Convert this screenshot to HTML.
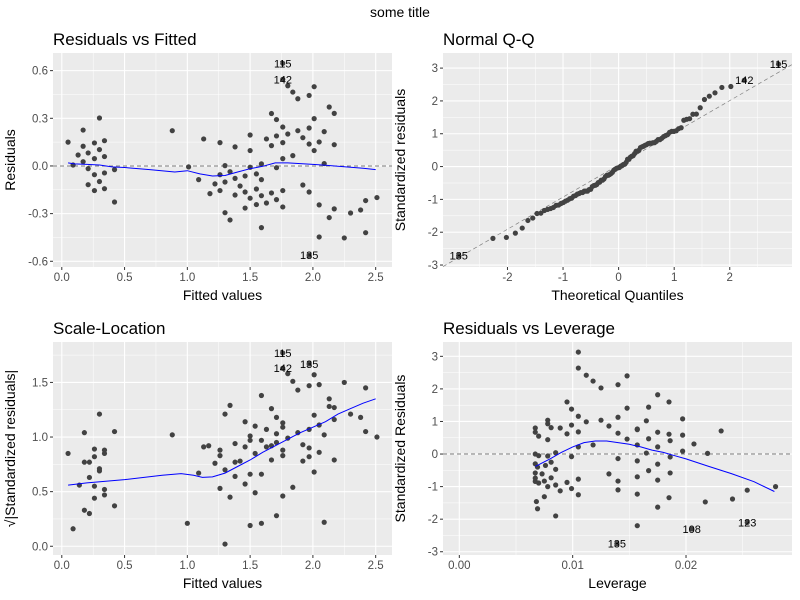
<!DOCTYPE html>
<html><head><meta charset="utf-8"><style>
body{margin:0;background:#fff;}
svg{font-family:"Liberation Sans",sans-serif;display:block}
</style></head><body>
<svg id="c" width="800" height="600">
<text x="400" y="17" text-anchor="middle" font-size="14" fill="#000">some title</text>
</svg>
<script>
// ---- data ----
const rvfFitted=[0.05,0.09,0.13,0.17,0.17,0.17,0.21,0.21,0.21,0.26,0.26,0.26,0.26,0.3,0.3,0.3,0.34,0.34,0.34,0.34,0.42,0.42,0.88,1.01,1.09,1.13,1.18,1.22,1.26,1.26,1.26,1.30,1.30,1.30,1.34,1.34,1.38,1.38,1.38,1.42,1.46,1.46,1.46,1.50,1.50,1.50,1.50,1.55,1.55,1.55,1.59,1.59,1.59,1.59,1.63,1.63,1.67,1.67,1.67,1.71,1.71,1.71,1.71,1.76,1.76,1.76,1.76,1.76,1.76,1.76,1.80,1.80,1.84,1.84,1.88,1.88,1.92,1.92,1.97,1.97,1.97,1.97,1.97,2.01,2.01,2.01,2.05,2.05,2.05,2.09,2.09,2.13,2.13,2.17,2.17,2.17,2.25,2.30,2.38,2.42,2.42,2.51];
const rvfResid=[0.15,0.006,0.069,0.226,0.124,0.027,0.082,-0.017,-0.118,0.145,0.046,-0.055,-0.155,0.302,0.103,-0.098,0.159,0.059,-0.044,-0.143,-0.023,-0.227,0.222,-0.006,-0.086,0.17,-0.174,-0.113,0.147,-0.055,-0.155,0.002,-0.294,-0.101,-0.036,-0.340,0.120,-0.078,-0.183,-0.126,-0.063,-0.164,-0.265,0.195,0.097,-0.008,-0.203,-0.050,-0.145,-0.243,0.013,-0.086,-0.187,-0.388,-0.233,0.170,0.330,0.128,-0.170,0.292,0.189,-0.011,-0.212,0.646,0.545,0.245,0.147,0.046,-0.155,-0.258,0.505,0.201,0.465,0.065,0.423,0.222,0.178,-0.120,0.444,0.239,0.138,-0.164,-0.562,0.499,0.298,0.097,0.151,-0.245,-0.447,0.216,0.015,0.371,-0.325,0.331,0.134,-0.270,-0.453,-0.296,-0.277,-0.218,-0.420,-0.199];
const rvfSmoothX=[0.05,0.1,0.2,0.3,0.4,0.5,0.7,0.9,1.0,1.1,1.2,1.3,1.4,1.5,1.6,1.7,1.8,1.9,2.0,2.1,2.2,2.3,2.4,2.5];
const rvfSmoothY=[0.019,0.013,0.01,0.006,-0.006,-0.01,-0.023,-0.038,-0.03,-0.05,-0.063,-0.06,-0.038,-0.017,-0.002,0.019,0.019,0.015,0.01,0.004,-0.002,-0.008,-0.015,-0.023];
const slFitted=[0.05,0.09,0.14,0.18,0.18,0.18,0.22,0.22,0.22,0.26,0.26,0.26,0.26,0.3,0.3,0.3,0.34,0.34,0.34,0.34,0.42,0.42,0.88,1.0,1.09,1.13,1.17,1.22,1.26,1.26,1.26,1.30,1.30,1.30,1.34,1.34,1.38,1.38,1.38,1.42,1.46,1.46,1.46,1.50,1.50,1.50,1.50,1.54,1.54,1.54,1.59,1.59,1.59,1.59,1.63,1.63,1.67,1.67,1.67,1.71,1.71,1.71,1.71,1.76,1.76,1.76,1.76,1.76,1.76,1.76,1.80,1.80,1.84,1.84,1.88,1.88,1.92,1.92,1.97,1.97,1.97,1.97,1.97,2.01,2.01,2.01,2.05,2.05,2.05,2.09,2.09,2.13,2.13,2.17,2.17,2.17,2.25,2.30,2.38,2.42,2.42,2.51];
const slValue=[0.85,0.16,0.56,1.04,0.77,0.33,0.77,0.63,0.3,0.89,0.82,0.55,0.44,1.21,0.71,0.69,0.88,0.85,0.52,0.47,1.05,0.37,1.02,0.21,0.67,0.91,0.92,0.76,0.88,0.83,0.53,1.21,0.7,0.02,1.29,0.45,0.94,0.77,0.64,0.78,1.14,0.91,0.57,1.01,0.97,0.66,0.19,1.1,0.85,0.49,1.38,0.97,0.66,0.21,1.07,0.91,1.26,0.92,0.79,1.18,1.03,0.95,0.28,1.77,1.63,1.13,1.09,0.88,0.83,0.46,1.58,0.99,1.51,0.54,1.43,1.04,0.93,0.78,1.67,1.47,1.07,0.9,0.82,1.57,1.2,0.68,1.48,1.11,0.86,1.02,0.22,1.35,1.28,1.27,1.16,0.79,1.5,1.21,1.18,1.45,1.05,1.0];
const slSmoothX=[0.05,0.2,0.5,0.8,0.95,1.05,1.12,1.2,1.3,1.4,1.5,1.6,1.7,1.8,1.9,2.0,2.1,2.2,2.3,2.4,2.5];
const slSmoothY=[0.56,0.58,0.61,0.65,0.665,0.65,0.63,0.635,0.67,0.73,0.79,0.86,0.92,0.98,1.04,1.09,1.14,1.21,1.26,1.31,1.35];
const levX=[0.0067,0.0067,0.0067,0.0067,0.0067,0.0067,0.0067,0.0068,0.0069,0.0069,0.007,0.007,0.007,0.0073,0.0075,0.0075,0.0076,0.0078,0.0078,0.0078,0.0078,0.0078,0.0081,0.0081,0.0081,0.0085,0.0085,0.0085,0.0085,0.0089,0.0089,0.0095,0.0095,0.0095,0.0099,0.0099,0.0099,0.0099,0.0105,0.0105,0.0105,0.0105,0.0105,0.0105,0.0105,0.0112,0.0112,0.0118,0.0118,0.0125,0.0125,0.0132,0.0132,0.014,0.014,0.014,0.014,0.014,0.014,0.0148,0.0148,0.0148,0.0157,0.0157,0.0157,0.0157,0.0157,0.0157,0.0157,0.0165,0.0165,0.0167,0.0167,0.0167,0.0175,0.0175,0.0175,0.0175,0.0175,0.0175,0.0185,0.0185,0.0185,0.0186,0.0186,0.0186,0.0197,0.0197,0.0197,0.0207,0.0219,0.0217,0.0231,0.0241,0.0254,0.0279,0.0139,0.0205,0.0254];
const levStd=[0.80,0.67,0.0,-0.3,-0.58,-0.74,-0.84,-1.46,-1.68,-0.40,0.55,-0.05,-0.89,-0.61,-1.31,-0.83,-0.35,0.44,0.93,1.04,-0.06,-1.0,0.81,-0.25,-0.73,-1.9,-0.95,-0.47,0.04,0.80,-1.13,1.60,0.62,-0.87,1.38,0.89,-0.08,-1.06,3.13,2.64,1.16,0.68,0.22,-0.77,-1.25,2.42,0.99,2.24,0.28,2.03,1.04,0.86,-0.61,2.13,1.13,0.64,-0.14,-0.83,-1.1,2.4,1.41,0.46,0.77,0.75,0.28,-0.21,-0.7,-1.23,-2.2,1.02,0.03,1.44,0.47,-0.51,1.82,0.67,0.22,-0.31,-0.8,-1.63,1.6,0.61,-1.34,0.41,-0.09,-0.58,1.08,0.58,0.09,0.31,0.02,-1.47,0.71,-1.38,-1.11,-1.0,-2.75,-2.3,-2.1];
const levSmoothX=[0.0067,0.008,0.009,0.010,0.011,0.012,0.013,0.014,0.015,0.016,0.017,0.018,0.019,0.020,0.022,0.024,0.026,0.0278];
const levSmoothY=[-0.38,-0.15,0.05,0.22,0.35,0.4,0.4,0.35,0.3,0.22,0.12,0.05,-0.05,-0.15,-0.38,-0.6,-0.85,-1.15];
const qqScale=[4.83];
const qqLine=[0.05,0.98]; // intercept, slope
const qqPEnds=[0.002,0.998];
const xTicks1=[0,0.5,1,1.5,2,2.5], xTickLab1=["0.0","0.5","1.0","1.5","2.0","2.5"];
const yTicks1=[-0.6,-0.3,0,0.3,0.6], yTickLab1=["-0.6","-0.3","0.0","0.3","0.6"];
const xTicks2=[-2,-1,0,1,2], xTickLab2=["-2","-1","0","1","2"];
const yTicks2=[-3,-2,-1,0,1,2,3], yTickLab2=["-3","-2","-1","0","1","2","3"];
const yTicks3=[0,0.5,1,1.5], yTickLab3=["0.0","0.5","1.0","1.5"];
const xTicks4=[0,0.01,0.02], xTickLab4=["0.00","0.01","0.02"];

const NS="http://www.w3.org/2000/svg", svg=document.getElementById('c');
function el(t,a,p){const e=document.createElementNS(NS,t);for(const k in a)e.setAttribute(k,a[k]);(p||svg).appendChild(e);return e;}
function qnorm(p){const a=[-39.6968302866538,220.946098424521,-275.928510446969,138.357751867269,-30.6647980661472,2.50662827745924],b=[-54.4760987982241,161.585836858041,-155.698979859887,66.8013118877197,-13.2806815528857],c=[-0.00778489400243029,-0.322396458041136,-2.40075827716184,-2.54973253934373,4.37466414146497,2.93816398269878],d=[0.00778469570904146,0.32246712907004,2.445134137143,3.75440866190742];let q,r;
if(p<0.02425){q=Math.sqrt(-2*Math.log(p));return(((((c[0]*q+c[1])*q+c[2])*q+c[3])*q+c[4])*q+c[5])/((((d[0]*q+d[1])*q+d[2])*q+d[3])*q+1);}
if(p>1-0.02425){q=Math.sqrt(-2*Math.log(1-p));return-(((((c[0]*q+c[1])*q+c[2])*q+c[3])*q+c[4])*q+c[5])/((((d[0]*q+d[1])*q+d[2])*q+d[3])*q+1);}
q=p-0.5;r=q*q;return(((((a[0]*r+a[1])*r+a[2])*r+a[3])*r+a[4])*r+a[5])*q/(((((b[0]*r+b[1])*r+b[2])*r+b[3])*r+b[4])*r+1);}

function panel(o){
  const g=el('g',{});
  
  
  const sx=v=>o.x0+(v-o.xd[0])/(o.xd[1]-o.xd[0])*(o.x1-o.x0);
  const sy=v=>o.y1-(v-o.yd[0])/(o.yd[1]-o.yd[0])*(o.y1-o.y0);
  const bg=el('rect',{x:o.x0,y:o.y0,width:o.x1-o.x0,height:o.y1-o.y0,fill:'#EBEBEB'},g);
  
  
  const xs=o.xt, ys=o.yt;
  const minor=(t,lo,hi)=>{const m=[];const s=t[1]-t[0];for(let v=t[0]-s/2;v<=hi+1e-9;v+=s){if(v>=lo)m.push(v);}return m;};
  minor(xs,o.xd[0],o.xd[1]).forEach(v=>el('line',{x1:sx(v),x2:sx(v),y1:o.y0,y2:o.y1,stroke:'#fff','stroke-width':0.5},g));
  minor(ys,o.yd[0],o.yd[1]).forEach(v=>el('line',{x1:o.x0,x2:o.x1,y1:sy(v),y2:sy(v),stroke:'#fff','stroke-width':0.5},g));
  xs.forEach((v,i)=>{el('line',{x1:sx(v),x2:sx(v),y1:o.y0,y2:o.y1,stroke:'#fff','stroke-width':1.1},g);
    el('line',{x1:sx(v),x2:sx(v),y1:o.y1,y2:o.y1+3,stroke:'#333'},g);
    const t=el('text',{x:sx(v),y:o.y1+14,'text-anchor':'middle','font-size':11.5,fill:'#4D4D4D'},g);t.textContent=o.xl[i];
    
    });
  ys.forEach((v,i)=>{el('line',{x1:o.x0,x2:o.x1,y1:sy(v),y2:sy(v),stroke:'#fff','stroke-width':1.1},g);
    el('line',{x1:o.x0-3,x2:o.x0,y1:sy(v),y2:sy(v),stroke:'#333'},g);
    const t=el('text',{x:o.x0-5,y:sy(v)+4,'text-anchor':'end','font-size':11.5,fill:'#4D4D4D'},g);t.textContent=o.yl[i];
    
    });
  if(o.hline!==undefined){const h=el('line',{x1:o.x0,x2:o.x1,y1:sy(o.hline),y2:sy(o.hline),stroke:'#7f7f7f','stroke-dasharray':'4,3'},g);
    
    }
  if(o.abline){const [a,b]=o.abline;const ln=el('line',{x1:o.x0,y1:sy(a+b*o.xd[0]),x2:o.x1,y2:sy(a+b*o.xd[1]),stroke:'#7f7f7f','stroke-width':0.7,'stroke-dasharray':'4,3'},g);
    
    }
  o.px.forEach((v,i)=>{const c=el('circle',{cx:sx(v),cy:sy(o.py[i]),r:2.6,fill:'#424242'},g);
    
    });
  if(o.smx){const p=el('path',{d:o.smx.map((v,i)=>(i?'L':'M')+sx(v).toFixed(1)+','+sy(o.smy[i]).toFixed(1)).join(''),fill:'none',stroke:'#0000FF','stroke-width':1},g);
    
    }
  (o.labels||[]).forEach(l=>{const t=el('text',{x:sx(l[0]),y:sy(l[1])+4,'text-anchor':'middle','font-size':11,fill:'#000'},g);t.textContent=l[2];
    
    });
  const tt=el('text',{x:o.x0,y:o.y0-8,'font-size':17,fill:'#000'},g);tt.textContent=o.title;
  
  
  const xt=el('text',{x:(o.x0+o.x1)/2,y:o.y1+33,'text-anchor':'middle','font-size':14,fill:'#000'},g);xt.textContent=o.xlab;
  
  
  const cy=(o.y0+o.y1)/2, cx=o.x0-38;
  const yt=el('text',{x:cx,y:cy,'text-anchor':'middle','font-size':14,fill:'#000',transform:`rotate(-90 ${cx} ${cy})`},g);yt.textContent=o.ylab;
  
  
}

panel({name:'residuals-vs-fitted',x0:53,x1:392,y0:53,y1:267,xd:[-0.07,2.63],yd:[-0.636,0.711],xt:xTicks1,xl:xTickLab1,yt:yTicks1,yl:yTickLab1,
  px:rvfFitted,py:rvfResid,smx:rvfSmoothX,smy:rvfSmoothY,hline:0,title:'Residuals vs Fitted',xlab:'Fitted values',ylab:'Residuals',
  labels:[[1.76,0.646,'115'],[1.76,0.545,'142'],[1.97,-0.562,'135']]});

const qqS=rvfResid.map(v=>v*qqScale[0]).sort((a,b)=>a-b);
const qqT=qqS.map((v,i)=>qnorm(qqPEnds[0]+(qqPEnds[1]-qqPEnds[0])*i/(qqS.length-1)));
panel({name:'normal-qq',x0:443,x1:792,y0:53,y1:267,xd:[-3.16,3.12],yd:[-3.06,3.46],xt:xTicks2,xl:xTickLab2,yt:yTicks2,yl:yTickLab2,
  px:qqT,py:qqS,abline:qqLine,title:'Normal Q-Q',xlab:'Theoretical Quantiles',ylab:'Standardized residuals',
  labels:[[qqT[qqT.length-1],qqS[qqS.length-1],'115'],[qqT[qqT.length-2],qqS[qqS.length-2],'142'],[qqT[0],qqS[0],'135']]});

panel({name:'scale-location',x0:53,x1:392,y0:342,y1:555,xd:[-0.07,2.63],yd:[-0.08,1.87],xt:xTicks1,xl:xTickLab1,yt:yTicks3,yl:yTickLab3,
  px:slFitted,py:slValue,smx:slSmoothX,smy:slSmoothY,title:'Scale-Location',xlab:'Fitted values',ylab:'√|Standardized residuals|',
  labels:[[1.76,1.77,'115'],[1.76,1.63,'142'],[1.97,1.67,'135']]});

panel({name:'residuals-vs-leverage',x0:443,x1:792,y0:342,y1:555,xd:[-0.00144,0.02935],yd:[-3.1,3.44],xt:xTicks4,xl:xTickLab4,yt:yTicks2,yl:yTickLab2,
  px:levX,py:levStd,smx:levSmoothX,smy:levSmoothY,hline:0,title:'Residuals vs Leverage',xlab:'Leverage',ylab:'Standardized Residuals',
  labels:[[0.0139,-2.75,'135'],[0.0205,-2.3,'108'],[0.0254,-2.1,'123']]});
</script>
</body></html>
